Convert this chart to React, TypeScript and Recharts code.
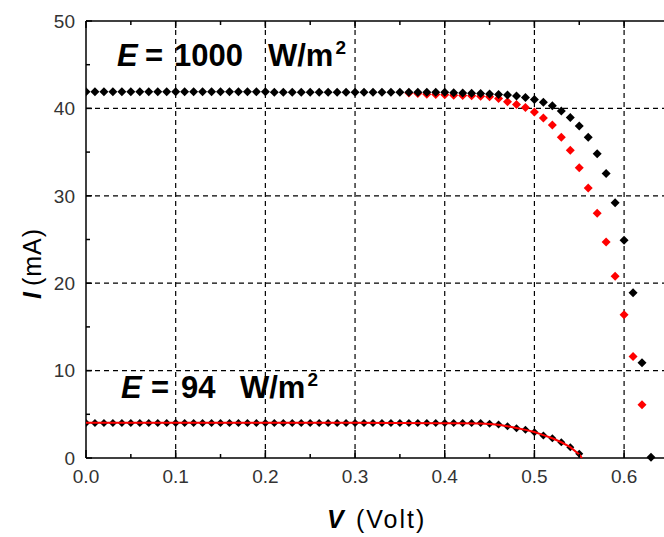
import React from "react";
import {
  ScatterChart,
  Scatter,
  XAxis,
  YAxis,
  ReferenceLine
} from "recharts";

// --- data ---

// E = 1000 W/m2, black diamonds
const v1000 = [
  0.00, 0.01, 0.02, 0.03, 0.04, 0.05, 0.06, 0.07, 0.08, 0.09,
  0.10, 0.11, 0.12, 0.13, 0.14, 0.15, 0.16, 0.17, 0.18, 0.19,
  0.20, 0.21, 0.22, 0.23, 0.24, 0.25, 0.26, 0.27, 0.28, 0.29,
  0.30, 0.31, 0.32, 0.33, 0.34, 0.35, 0.36, 0.37, 0.38, 0.39,
  0.40, 0.41, 0.42, 0.43, 0.44, 0.45, 0.46, 0.47, 0.48, 0.49,
  0.50, 0.51, 0.52, 0.53, 0.54, 0.55, 0.56, 0.57, 0.58, 0.59,
  0.60, 0.61, 0.62, 0.63
];
const i1000 = [
  41.9, 41.9, 41.9, 41.9, 41.9, 41.9, 41.9, 41.9, 41.9, 41.9,
  41.9, 41.9, 41.9, 41.9, 41.9, 41.9, 41.9, 41.9, 41.9, 41.9,
  41.9, 41.85, 41.85, 41.85, 41.85, 41.85, 41.85, 41.85, 41.85, 41.85,
  41.85, 41.85, 41.85, 41.85, 41.85, 41.85, 41.85, 41.85, 41.85, 41.85,
  41.85, 41.78, 41.75, 41.72, 41.7, 41.66, 41.6, 41.52, 41.41, 41.26,
  41.03, 40.7, 40.3, 39.7, 38.97, 38.0, 36.7, 34.8, 32.55, 29.2,
  24.9, 18.9, 10.9, 0.1
];

// E = 1000 W/m2, red diamonds
const v1000red = [
  0.36, 0.37, 0.38, 0.39, 0.40, 0.41, 0.42, 0.43, 0.44, 0.45,
  0.46, 0.47, 0.48, 0.49, 0.50, 0.51, 0.52, 0.53, 0.54, 0.55,
  0.56, 0.57, 0.58, 0.59, 0.60, 0.61, 0.62
];
const i1000red = [
  41.75, 41.7, 41.62, 41.6, 41.55, 41.5, 41.48, 41.45, 41.4, 41.33,
  41.14, 40.76, 40.45, 40.1, 39.6, 38.9, 38.1, 36.7, 35.2, 33.2,
  30.9, 28.0, 24.7, 20.8, 16.4, 11.6, 6.1
];

// E = 94 W/m2, black diamonds
const v94 = [
  0.00, 0.01, 0.02, 0.03, 0.04, 0.05, 0.06, 0.07, 0.08, 0.09,
  0.10, 0.11, 0.12, 0.13, 0.14, 0.15, 0.16, 0.17, 0.18, 0.19,
  0.20, 0.21, 0.22, 0.23, 0.24, 0.25, 0.26, 0.27, 0.28, 0.29,
  0.30, 0.31, 0.32, 0.33, 0.34, 0.35, 0.36, 0.37, 0.38, 0.39,
  0.40, 0.41, 0.42, 0.43, 0.44, 0.45, 0.46, 0.47, 0.48, 0.49,
  0.50, 0.51, 0.52, 0.53, 0.54, 0.55
];
const i94 = [
  4.0, 4.0, 4.0, 4.0, 4.0, 4.0, 4.0, 4.0, 4.0, 4.0,
  4.0, 4.0, 4.0, 4.0, 4.0, 4.0, 4.0, 4.0, 4.0, 4.0,
  4.0, 4.0, 4.0, 4.0, 4.0, 4.0, 4.0, 4.0, 4.0, 4.0,
  4.0, 4.0, 4.0, 4.0, 4.0, 4.0, 4.0, 4.0, 4.0, 4.0,
  4.0, 4.0, 4.0, 4.0, 4.0, 3.92, 3.84, 3.64, 3.41, 3.23,
  2.96, 2.58, 2.27, 1.81, 1.24, 0.48
];

// E = 94 W/m2, red fitted curve
const v94fit = [0.0, 0.1, 0.2, 0.3, 0.4, 0.42, 0.44, 0.45, 0.46, 0.47, 0.48, 0.49, 0.5, 0.51, 0.52, 0.53, 0.54, 0.55, 0.553];
const i94fit = [4.02, 4.02, 4.02, 4.02, 3.99, 3.97, 3.94, 3.9, 3.8, 3.64, 3.43, 3.22, 2.97, 2.62, 2.26, 1.8, 1.24, 0.4, 0];

const xTicks = [0, 0.05, 0.1, 0.15, 0.2, 0.25, 0.3, 0.35, 0.4, 0.45, 0.5, 0.55, 0.6];
const yTicks = [0, 5, 10, 15, 20, 25, 30, 35, 40, 45, 50];
const xGrid = [0.1, 0.2, 0.3, 0.4, 0.5, 0.6];
const yGrid = [10, 20, 30, 40];

const toPoints = (vs: number[], is: number[]) => vs.map((v, k) => ({ v, i: is[k] }));

const FONT = "Arial, 'Liberation Sans', sans-serif";
const TICK_COLOR = "#333333";

const isMajorX = (v: number) => Math.abs(v * 10 - Math.round(v * 10)) < 1e-6;
const isMajorY = (v: number) => v % 10 === 0;

const diamond = (r: number) => (props: any) => {
  const { cx, cy, fill } = props;
  if (cx == null || cy == null) return <g />;
  return (
    <path
      d={`M${cx},${cy - r}L${cx + r},${cy}L${cx},${cy + r}L${cx - r},${cy}Z`}
      fill={fill}
    />
  );
};

const BottomTick = (props: any) => {
  const { x, y, payload } = props;
  const major = isMajorX(payload.value);
  return (
    <g>
      <line x1={x} x2={x} y1={y} y2={y - (major ? 8 : 4)} stroke="#000" strokeWidth={1.5} />
      {major && (
        <text x={x} y={y + 25} textAnchor="middle" fontFamily={FONT} fontSize={19} fill={TICK_COLOR}>
          {payload.value.toFixed(1)}
        </text>
      )}
    </g>
  );
};

const TopTick = (props: any) => {
  const { x, y, payload } = props;
  const major = isMajorX(payload.value);
  return <line x1={x} x2={x} y1={y} y2={y + (major ? 7 : 4)} stroke="#000" strokeWidth={1.5} />;
};

const LeftTick = (props: any) => {
  const { x, y, payload } = props;
  const major = isMajorY(payload.value);
  return (
    <g>
      <line x1={x} x2={x + (major ? 6 : 4)} y1={y} y2={y} stroke="#000" strokeWidth={1.5} />
      {major && (
        <text x={x - 11} y={y} dy="0.36em" textAnchor="end" fontFamily={FONT} fontSize={19} fill={TICK_COLOR}>
          {payload.value}
        </text>
      )}
    </g>
  );
};

export default function App() {
  const black1000 = toPoints(v1000, i1000);
  const red1000 = toPoints(v1000red, i1000red);
  const black94 = toPoints(v94, i94);
  const fit94 = toPoints(v94fit, i94fit);

  return (
    <div style={{ position: "absolute", left: 0, top: 0, width: 664, height: 537, background: "#fff" }}>
      <ScatterChart width={664} height={537} margin={{ top: 20, right: 0, bottom: 78, left: 0 }}>
        <XAxis
          dataKey="v"
          type="number"
          domain={[0, 0.6445]}
          allowDataOverflow
          ticks={xTicks}
          interval={0}
          height={1}
          tickSize={0}
          tickMargin={0}
          tickLine={false}
          axisLine={{ stroke: "#000", strokeWidth: 1.5 }}
          tick={<BottomTick />}
        />
        <XAxis
          xAxisId="top"
          orientation="top"
          dataKey="v"
          type="number"
          domain={[0, 0.6445]}
          allowDataOverflow
          ticks={xTicks}
          interval={0}
          height={1}
          tickSize={0}
          tickMargin={0}
          tickLine={false}
          axisLine={{ stroke: "#000", strokeWidth: 1.5 }}
          tick={<TopTick />}
        />
        <YAxis
          dataKey="i"
          type="number"
          domain={[0, 50]}
          ticks={yTicks}
          interval={0}
          width={86}
          tickSize={0}
          tickMargin={0}
          tickLine={false}
          axisLine={{ stroke: "#000", strokeWidth: 1.5 }}
          tick={<LeftTick />}
        />
        {xGrid.map((g) => (
          <ReferenceLine key={`gx${g}`} x={g} stroke="#000" strokeWidth={1.2} strokeDasharray="5 4" />
        ))}
        {yGrid.map((g) => (
          <ReferenceLine key={`gy${g}`} y={g} stroke="#000" strokeWidth={1.2} strokeDasharray="5 4" />
        ))}
        <Scatter data={red1000} fill="#ff0000" shape={diamond(4.5)} isAnimationActive={false} />
        <Scatter data={black1000} fill="#000000" shape={diamond(4.5)} isAnimationActive={false} />
        <Scatter data={black94} fill="#000000" shape={diamond(4)} isAnimationActive={false} />
        <Scatter
          data={fit94}
          fill="none"
          line={{ stroke: "#ff0000", strokeWidth: 2 }}
          lineType="joint"
          shape={() => <g />}
          isAnimationActive={false}
        />
      </ScatterChart>

      <svg
        width={664}
        height={537}
        style={{ position: "absolute", left: 0, top: 0, pointerEvents: "none" }}
        fontFamily={FONT}
      >
        {/* irradiance labels */}
        <text x={117} y={66} fontSize={31} fontWeight="bold" fontStyle="italic">E</text>
        <text x={145} y={66} fontSize={31} fontWeight="bold">=</text>
        <text x={174} y={66} fontSize={31} fontWeight="bold">1000</text>
        <text x={268} y={66} fontSize={31} fontWeight="bold">
          W/m<tspan fontSize={19} dy={-12} dx={2}>2</tspan>
        </text>

        <text x={121} y={398} fontSize={31} fontWeight="bold" fontStyle="italic">E</text>
        <text x={151} y={398} fontSize={31} fontWeight="bold">=</text>
        <text x={181} y={398} fontSize={31} fontWeight="bold">94</text>
        <text x={240} y={398} fontSize={31} fontWeight="bold">
          W/m<tspan fontSize={19} dy={-12} dx={2}>2</tspan>
        </text>

        {/* axis titles */}
        <text x={327} y={528} fontSize={25}>
          <tspan fontWeight="bold" fontStyle="italic">V</tspan>
          <tspan x={356} letterSpacing={2}>(Volt)</tspan>
        </text>
        <text transform="translate(41,299) rotate(-90)" fontSize={25}>
          <tspan fontWeight="bold" fontStyle="italic">I</tspan>
          <tspan dx={6} letterSpacing={1}>(mA)</tspan>
        </text>
      </svg>
    </div>
  );
}
